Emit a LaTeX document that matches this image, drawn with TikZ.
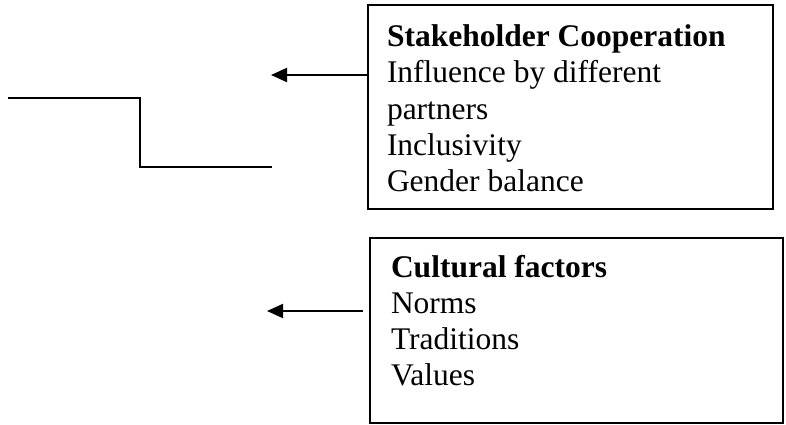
\documentclass[tikz,border=0pt]{standalone}
\usepackage{fontspec}
\setmainfont{Liberation Serif}
\usetikzlibrary{arrows.meta}
\begin{document}
\begin{tikzpicture}[x=1pt,y=-1pt,
  frame/.style={draw=black, line width=1.9pt, inner sep=0pt, outer sep=0pt},
  line/.style={draw=black, line width=1.9pt},
  arr/.style={line, -{Triangle[length=16pt,width=14pt]}},
  txt/.style={anchor=base west, inner sep=0pt, outer sep=0pt, font=\fontsize{31.5}{36}\selectfont},
  hd/.style={txt, font=\fontsize{31.5}{36}\selectfont\bfseries}]
\useasboundingbox (0,0) rectangle (786,425);
% boxes
\node[frame, minimum width=405pt, minimum height=204pt] (b1) at (570.2,107.2) {};
\node[frame, minimum width=413pt, minimum height=185pt] (b2) at (576.5,330.4) {};
% box 1 text
\node[hd]  (s1) at (387,47)  {Stakeholder Cooperation};
\node[txt] (s2) at (387,83)  {Influence by different};
\node[txt] (s3) at (387,119) {partners};
\node[txt] (s4) at (387,155) {Inclusivity};
\node[txt] (s5) at (387,191) {Gender balance};
% box 2 text
\node[hd]  (c1) at (391,277) {Cultural factors};
\node[txt] (c2) at (391,313) {Norms};
\node[txt] (c3) at (391,349) {Traditions};
\node[txt] (c4) at (391,385) {Values};
% arrows
\coordinate (a1end) at (271,75);
\coordinate (a2start) at (363,311);
\coordinate (a2end) at (267,311);
\draw[arr] (b1.west |- a1end) -- (a1end);
\draw[arr] (a2start) -- (a2end);
% step line
\coordinate (p1) at (8,98.3);
\coordinate (p2) at (140,98.3);
\coordinate (p3) at (140,167.3);
\coordinate (p4) at (272,167.3);
\draw[line] (p1) -- (p2) -- (p3) -- (p4);
\end{tikzpicture}
\end{document}
